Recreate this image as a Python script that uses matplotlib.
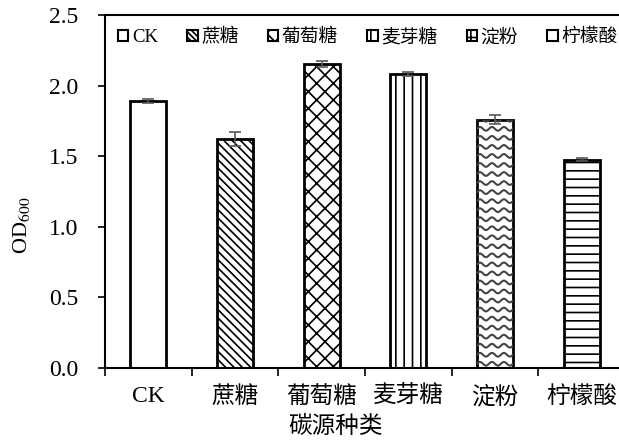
import numpy as np
import matplotlib
matplotlib.use('Agg')
import matplotlib.pyplot as plt
from matplotlib.patches import Patch

plt.rcParams['font.family'] = ['Liberation Serif', 'Noto Sans CJK SC']
plt.rcParams['mathtext.fontset'] = 'stix'
plt.rcParams['hatch.linewidth'] = 1.2

# data
categories = ['CK', '蔗糖', '葡萄糖', '麦芽糖', '淀粉', '柠檬酸']
od600 = [1.89, 1.62, 2.155, 2.08, 1.76, 1.475]
od600_err = [0.015, 0.05, 0.02, 0.015, 0.035, 0.01]
hatches = ['', '\\\\\\\\', 'xx', '||', None, '--']   # None -> wavy pattern drawn by hand

fig = plt.figure(figsize=(6.19, 4.42), dpi=100)
ax = fig.add_axes([0.1696, 0.1674, 0.840, 0.7986])

x = np.arange(len(categories))
bars = ax.bar(x, od600, width=0.415, color='white', edgecolor='black', linewidth=2.0,
              hatch=[h if h else '' for h in hatches], zorder=2)
ax.errorbar(x, od600, yerr=od600_err, fmt='none', ecolor='#595959', elinewidth=1.2,
            capsize=4, capthick=1.2, zorder=3)

# wavy fill for the starch bar
for b, h in zip(bars, hatches):
    if h is None:
        x0, w, top = b.get_x(), b.get_width(), b.get_height()
        xs = np.linspace(x0, x0 + w, 80)
        for yb in np.arange(0.03, top + 0.06, 0.064):
            ln, = ax.plot(xs, yb + 0.013 * np.sin((xs - x0) / w * 2 * np.pi * 3),
                          color='#444444', lw=1.5, zorder=2.5)
            ln.set_clip_path(b)

ax.set_xlim(-0.5, 5.5)
ax.set_ylim(0, 2.5)
ax.set_yticks(np.arange(0, 2.51, 0.5))
ax.set_yticklabels(['%.1f' % v for v in np.arange(0, 2.51, 0.5)], fontsize=17)
ax.set_xticks(np.arange(-0.5, 5.6, 1.0))
ax.set_xticklabels([])
ax.set_xticks(x, minor=True)
ax.set_xticklabels(categories, minor=True, fontsize=17)
ax.tick_params(axis='x', which='minor', length=0, pad=13)
ax.tick_params(axis='x', which='major', direction='out', length=6, width=1.2)
ax.tick_params(axis='y', direction='out', length=5, width=1.2, pad=14)
for s in ax.spines.values():
    s.set_linewidth(1.5)

ax.set_ylabel('OD$_{600}$', fontsize=16)
ax.yaxis.set_label_coords(-0.14, 0.405)
ax.set_xlabel('碳源种类', fontsize=17)
ax.xaxis.set_label_coords(0.444, -0.135)

legend_hatch = ['', '\\\\\\\\\\\\', 'xx', '||', '++', '-']
handles = [Patch(facecolor='white', edgecolor='black', linewidth=1.5, hatch=h) for h in legend_hatch]
ax.legend(handles, categories, loc='upper left', ncol=6, frameon=False, fontsize=13.5,
          handlelength=0.55, handleheight=0.55, handletextpad=0.2, columnspacing=1.55,
          borderaxespad=0.3, bbox_to_anchor=(0.0, 1.0))

fig.savefig('out.png', dpi=100)
